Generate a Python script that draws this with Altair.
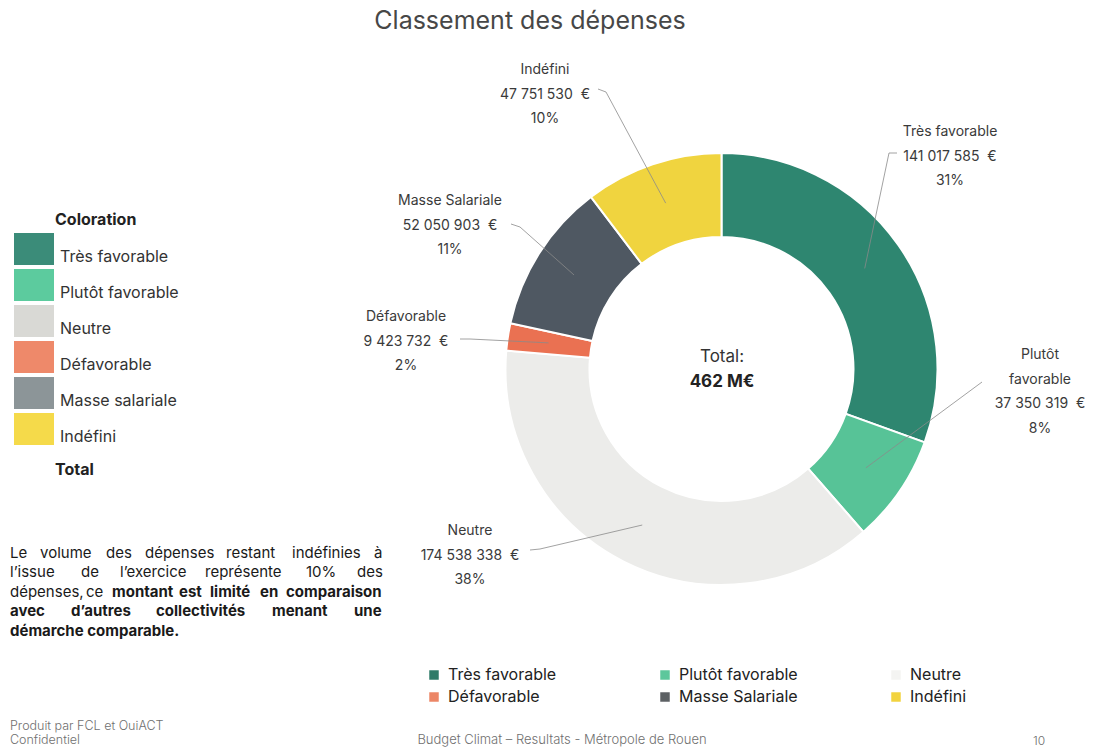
import altair as alt
import pandas as pd
import numpy as np

# ---------------- data ----------------
categories = ["Très favorable", "Plutôt favorable", "Neutre", "Défavorable", "Masse salariale", "Indéfini"]
bottom_names = ["Très favorable", "Plutôt favorable", "Neutre", "Défavorable", "Masse Salariale", "Indéfini"]
label_heads = [["Très favorable"], ["Plutôt", "favorable"], ["Neutre"], ["Défavorable"], ["Masse Salariale"], ["Indéfini"]]
amounts = [141017585, 37350319, 174538338, 9423732, 52050903, 47751530]

donut_colors = ["#2e8670", "#57c397", "#ececea", "#ea7152", "#4f5862", "#f0d43f"]
legend_colors = ["#3b8c79", "#5ccb9e", "#d9d9d5", "#ee896a", "#8c9598", "#f5da4a"]
bottom_colors = ["#2f7b68", "#5dc79c", "#f4f4f2", "#ec8666", "#5d6164", "#f2d33f"]

FONT = "Inter"
W, H = 1077, 739
CX, CY = 713.5, 361.0          # donut centre (chart coords)
R_OUT, R_IN = 216, 132

total = sum(amounts)

def fmt_amount(v):
    return f"{v:,}".replace(",", " ") + "\u00a0\u00a0€"

# ---------------- donut ----------------
df = pd.DataFrame({"cat": categories, "amount": amounts, "idx": list(range(len(categories)))})

donut = alt.Chart(df).mark_arc(innerRadius=R_IN, outerRadius=R_OUT, stroke="white", strokeWidth=2).encode(
    theta=alt.Theta("amount:Q", stack=True),
    order=alt.Order("idx:Q"),
    color=alt.Color("cat:N", scale=alt.Scale(domain=categories, range=donut_colors), legend=None),
    x=alt.value(CX), y=alt.value(CY),
)

# ---------------- legends (real Vega-Lite legends) ----------------
left_legend = alt.Chart(pd.DataFrame({"cat": categories})).mark_square(size=1, opacity=1).encode(
    color=alt.Color("cat:N", scale=alt.Scale(domain=categories, range=legend_colors),
                    legend=alt.Legend(orient="none", legendX=10, legendY=225, title=None,
                                      symbolType="M-1.25,-1H1.25V1H-1.25Z", symbolSize=1024,
                                      symbolStrokeWidth=0, symbolOpacity=1, labelFont=FONT, labelFontSize=16,
                                      labelColor="#333333", labelOffset=10, labelBaseline="top",
                                      rowPadding=4, padding=0)),
    x=alt.value(CX + 174), y=alt.value(CY),
)

bottom_legend = alt.Chart(pd.DataFrame({"cat": bottom_names})).mark_square(size=1, opacity=1).encode(
    color=alt.Color("cat:N", scale=alt.Scale(domain=bottom_names, range=bottom_colors),
                    legend=alt.Legend(orient="none", legendX=418, legendY=659, title=None,
                                      columns=3, direction="horizontal", symbolType="square",
                                      symbolSize=90, symbolStrokeWidth=0, symbolOpacity=1, labelFont=FONT,
                                      labelFontSize=16, labelColor="#222222", labelOffset=6,
                                      rowPadding=6, columnPadding=90, gridAlign="all", padding=0)),
    x=alt.value(CX - 174), y=alt.value(CY),
)

# ---------------- labels around the donut ----------------
# layout: label centre x and first-line baseline y (chart coords)
label_x = [942, 1032, 462, 398, 442, 537]
label_y = [128, 351, 527, 313, 197, 66]
LH = 24.5

label_rows = []
for i, c in enumerate(categories):
    pct = f"{round(amounts[i] / total * 100)}%"
    label_rows.append({"cat": c, "lines": label_heads[i] + [fmt_amount(amounts[i]), pct],
                       "lx": label_x[i], "ly": label_y[i]})
labels = alt.Chart(pd.DataFrame(label_rows)).mark_text(
    font=FONT, fontSize=14, color="#3a3a3a", align="center", baseline="alphabetic", lineHeight=LH
).encode(
    x=alt.X("lx:Q", scale=None, axis=None),
    y=alt.Y("ly:Q", scale=None, axis=None),
    text="lines",
)

# leader lines: outer start / bend points (layout), inner end at segment mid-angle
starts = [(889, 145), (974, 374), (522, 542), (452, 331), (503, 216), (590, 81)]
bends = [(881, 145), (974, 374), (532, 541), (462, 331), (512, 219), (598, 84)]
fr = np.array(amounts) / total
mids = (np.cumsum(fr) - fr / 2) * 2 * np.pi
R_LEAD = 175
line_rows = []
for i, c in enumerate(categories):
    ex = CX + R_LEAD * np.sin(mids[i])
    ey = CY - R_LEAD * np.cos(mids[i])
    for k, (px, py) in enumerate([starts[i], bends[i], (ex, ey)]):
        line_rows.append({"cat": c, "k": k, "px": float(px), "py": float(py)})
leaders = alt.Chart(pd.DataFrame(line_rows)).mark_line(color="#8a8a8a", strokeWidth=0.8).encode(
    x=alt.X("px:Q", scale=None, axis=None),
    y=alt.Y("py:Q", scale=None, axis=None),
    detail="cat:N",
    order="k:Q",
)

# ---------------- justified paragraph (word by word) ----------------
para_y = [545, 564, 584, 603, 623]
para_words = [
    [("Le", 2, 0), ("volume", 32, 0), ("des", 98, 0), ("dépenses", 137, 0), ("restant", 218, 0),
     ("indéfinies", 284, 0), ("à", 366, 0)],
    [("l’issue", 2, 0), ("de", 73, 0), ("l’exercice", 112, 0), ("représente", 197, 0), ("10%", 298, 0),
     ("des", 349, 0)],
    [("dépenses,", 2, 0), ("ce", 78, 0), ("montant", 104, 1), ("est", 171, 1), ("limité", 202, 1),
     ("en", 252, 1), ("comparaison", 278, 1)],
    [("avec", 2, 1), ("d’autres", 63, 1), ("collectivités", 148, 1), ("menant", 264, 1), ("une", 346, 1)],
    [("démarche comparable.", 2, 1)],
]
para_rows = []
for li, words in enumerate(para_words):
    for w, x, b in words:
        para_rows.append({"w": w, "x": x, "y": para_y[li], "b": b})
para_df = pd.DataFrame(para_rows)

def para_layer(bold):
    return alt.Chart(para_df[para_df["b"] == bold]).mark_text(
        font=FONT, fontSize=15, color="#1a1a1a", align="left", baseline="middle",
        fontWeight="bold" if bold else "normal"
    ).encode(
        x=alt.X("x:Q", scale=None, axis=None),
        y=alt.Y("y:Q", scale=None, axis=None),
        text="w:N",
    )

# ---------------- free texts ----------------
def txt(text, x, y, size=14, weight="normal", color="#333333", align="left", baseline="middle", font=FONT):
    return alt.Chart(alt.Data(values=[{}])).mark_text(
        text=text, align=align, baseline=baseline, fontSize=size, fontWeight=weight,
        color=color, font=font
    ).encode(x=alt.value(x), y=alt.value(y))

texts = [
    txt("Classement des dépenses", 522, 21, size=25, color="#474747", align="center", baseline="alphabetic"),
    txt("Coloration", 47, 212, size=16, weight="bold", color="#222222"),
    txt("Total", 47, 462, size=16, weight="bold", color="#222222"),
    txt("Total:", 714, 349, size=17, color="#333333", align="center"),
    txt("462 M€", 714, 374, size=17, weight="bold", color="#222222", align="center"),
    txt("Produit par FCL et OuiACT", 2, 718, size=12.5, weight=300, color="#707070"),
    txt("Confidentiel", 2, 732, size=12.5, weight=300, color="#707070"),
    txt("Budget Climat – Resultats - Métropole de Rouen", 554, 739, size=13, weight=300,
        color="#707070", align="center", baseline="bottom"),
    txt("10", 1025, 733, size=12, weight=300, color="#707070"),
]

chart = alt.layer(left_legend, bottom_legend, donut, leaders, labels, para_layer(0), para_layer(1),
                  *texts).resolve_scale(
    color="independent"
).properties(
    width=W, height=H, padding=0, autosize="none", background="white"
).configure_view(stroke=None)

chart.save("out.html", embed_options={"renderer": "svg", "actions": False})
